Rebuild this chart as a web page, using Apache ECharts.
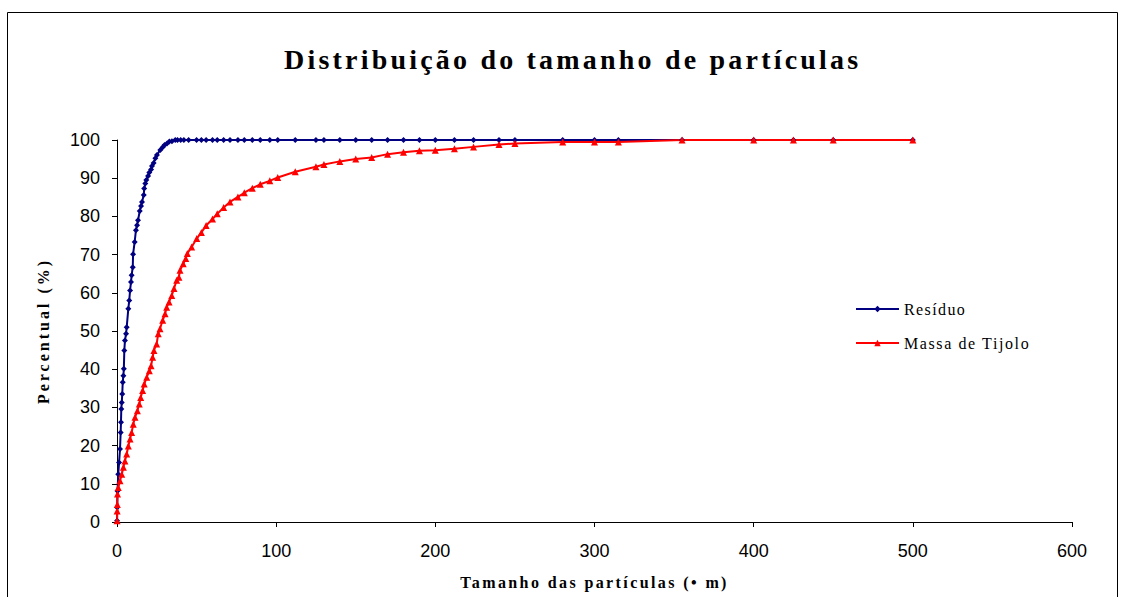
<!DOCTYPE html>
<html>
<head>
<meta charset="utf-8">
<script src="https://cdn.jsdelivr.net/npm/echarts@6/dist/echarts.min.js"></script>
<style>
html,body{margin:0;padding:0;background:#fff;}
#chart{width:1123px;height:597px;}
</style>
</head>
<body>
<div id="chart"></div>
<script>
const titleText = 'Distribuição do tamanho de partículas';
const xAxisName = 'Tamanho das partículas (• m)';
const yAxisName = 'Percentual (%)';
const seriesNames = ['Resíduo', 'Massa de Tijolo'];
const xTicks = [0, 100, 200, 300, 400, 500, 600];
const yTicks = [0, 10, 20, 30, 40, 50, 60, 70, 80, 90, 100];

const residuoX = [0.04,0.1,0.3,0.8,1.3, 1.9,2.3,2.5,2.7,3, 3.3,3.6,4,4.3,4.6, 5,5.7,6.1,7.1,7.7,
  8.2,8.8,9.2,9.9,10.1, 11.1,11.9,12.6,13.2,14.3, 15.1,15.7,16.8,17.1,17.8, 18.4,19.5,20.3,21.4,22,
  23,24.1,25.1,27.2,28.7, 29.9,31.4,32.9,34.5,36.6, 38,40,42,45,50, 53,56,60,63,67,
  71,76,80,85,90, 96,101,112,125,130, 140,150,160,170,180, 190,200,212,224,240,
  250,280,300,315,355, 400,425,450,500];
const residuoY = [0.3,3.8,8.1,12.5,15.6, 19.1,23.4,26.1,29.6,31.3, 33.5,36.6,38.3,40.1,44.9, 47.5,49.3,51.0,55.8,58.0,
  60.6,62.8,64.6,66.7,70.1, 73.3,76.4,77.7,79.0,81.4, 82.7,83.8,85.6,87.3,88.6, 89.5,90.6,91.5,92.3,93.2,
  94.0,95.2,96.1,97.4,98.1, 98.7,99.1,99.6,99.7,100, 100,100,100,100,100, 100,100,100,100,100,
  100,100,100,100,100, 100,100,100,100,100, 100,100,100,100,100, 100,100,100,100,100,
  100,100,100,100,100, 100,100,100,100];

const tijoloX = [0.04,0.1,0.2,0.3,0.8, 1.9,3,4,5,6.1, 7.1,8.2,9.2,10.2,11.3, 12.8,14,14.9,16.1,17.1,
  18.7,20.3,21.4,22.4,23.2, 24.9,25.9,27,28.7,30.2, 31.2,32.7,34.4,35.8,37.5, 38.9,39.6,41.6,43.2,44.2,
  46.9,50.1,53,56,60, 63,67,71,76,80, 85,90,96,101,112, 125,130,140,150,160,
  170,180,190,200,212, 224,240,250,280,300, 315,355,400,425,450, 500];
const tijoloY = [0.3,2.9,4.6,7.3,9, 10.8,12.5,14.3,16,17.8, 19.9,21.7,23.4,25.6,27.4, 29.1,30.9,32.6,34.4,36.1,
  37.9,39.6,40.9,43.1,44.9, 46.6,49.3,50.6,52.8,54.5, 56.2,57.6,59.3,61.1,63.3, 64.1,65.9,67.6,69,70.3,
  72,74.2,75.8,77.6,79.3, 80.7,82.3,83.8,85.1,86.2, 87.4,88.4,89.3,90.2,91.7, 93.0,93.6,94.4,95.0,95.4,
  96.3,96.8,97.2,97.3,97.7, 98.2,98.8,99.1,99.5,99.5, 99.5,100,100,100,100, 100];

const pairs = (xs, ys) => xs.map((x, i) => [x, ys[i]]);
const serif = '"Liberation Serif", "Times New Roman", serif';
const sans = '"Liberation Sans", Arial, sans-serif';

const chart = echarts.init(document.getElementById('chart'), null, {renderer: 'svg'});
chart.setOption({
  animation: false,
  backgroundColor: '#fff',
  title: {
    text: titleText, left: 279, top: 40,
    textStyle: {fontFamily: serif, fontWeight: 'bold', fontSize: 28, color: '#000'}
  },
  graphic: [{
    type: 'rect', shape: {x: 7.5, y: 12.5, width: 1110, height: 600},
    style: {fill: 'none', stroke: '#000', lineWidth: 1}, silent: true, z: -1
  }],
  legend: {
    orient: 'vertical', left: 850, top: 296, itemGap: 18,
    itemWidth: 43, itemHeight: 8,
    textStyle: {fontFamily: serif, fontSize: 16, color: '#000'},
    data: seriesNames
  },
  grid: {left: 117, right: 51, top: 140, bottom: 75, containLabel: false},
  xAxis: {
    type: 'value', min: xTicks[0], max: xTicks[xTicks.length - 1], interval: 100,
    name: xAxisName, nameLocation: 'middle', nameGap: 52,
    nameTextStyle: {fontFamily: serif, fontWeight: 'bold', fontSize: 16, color: '#000'},
    axisLine: {show: true, lineStyle: {color: '#000', width: 1}},
    axisTick: {show: true, length: 5, lineStyle: {color: '#000'}},
    axisLabel: {margin: 20, fontFamily: sans, fontSize: 18, color: '#000'},
    splitLine: {show: false}
  },
  yAxis: {
    type: 'value', min: yTicks[0], max: yTicks[yTicks.length - 1], interval: 10,
    name: yAxisName, nameLocation: 'middle', nameGap: 66, nameRotate: 90,
    nameTextStyle: {fontFamily: serif, fontWeight: 'bold', fontSize: 16, color: '#000'},
    axisLine: {show: true, lineStyle: {color: '#000', width: 1}},
    axisTick: {show: true, length: 5, lineStyle: {color: '#000'}},
    axisLabel: {margin: 17, fontFamily: sans, fontSize: 18, color: '#000'},
    splitLine: {show: false}
  },
  series: [
    {
      name: seriesNames[0], type: 'line', data: pairs(residuoX, residuoY),
      symbol: 'diamond', symbolSize: 6, showAllSymbol: true,
      lineStyle: {color: '#000080', width: 2},
      itemStyle: {color: '#000080'}
    },
    {
      name: seriesNames[1], type: 'line', data: pairs(tijoloX, tijoloY),
      symbol: 'triangle', symbolSize: 7, showAllSymbol: true,
      lineStyle: {color: '#ff0000', width: 2},
      itemStyle: {color: '#ff0000'}
    }
  ]
});

const spacing = {};
spacing[titleText] = '3.2px';
spacing[xAxisName] = '2.4px';
spacing[yAxisName] = '3px';
spacing[seriesNames[0]] = '1.4px';
spacing[seriesNames[1]] = '1.6px';
function applySpacing() {
  document.querySelectorAll('#chart svg text').forEach(t => {
    const s = t.textContent;
    if (spacing[s]) t.style.letterSpacing = spacing[s];
  });
}
applySpacing();
chart.on('finished', applySpacing);
</script>
</body>
</html>
